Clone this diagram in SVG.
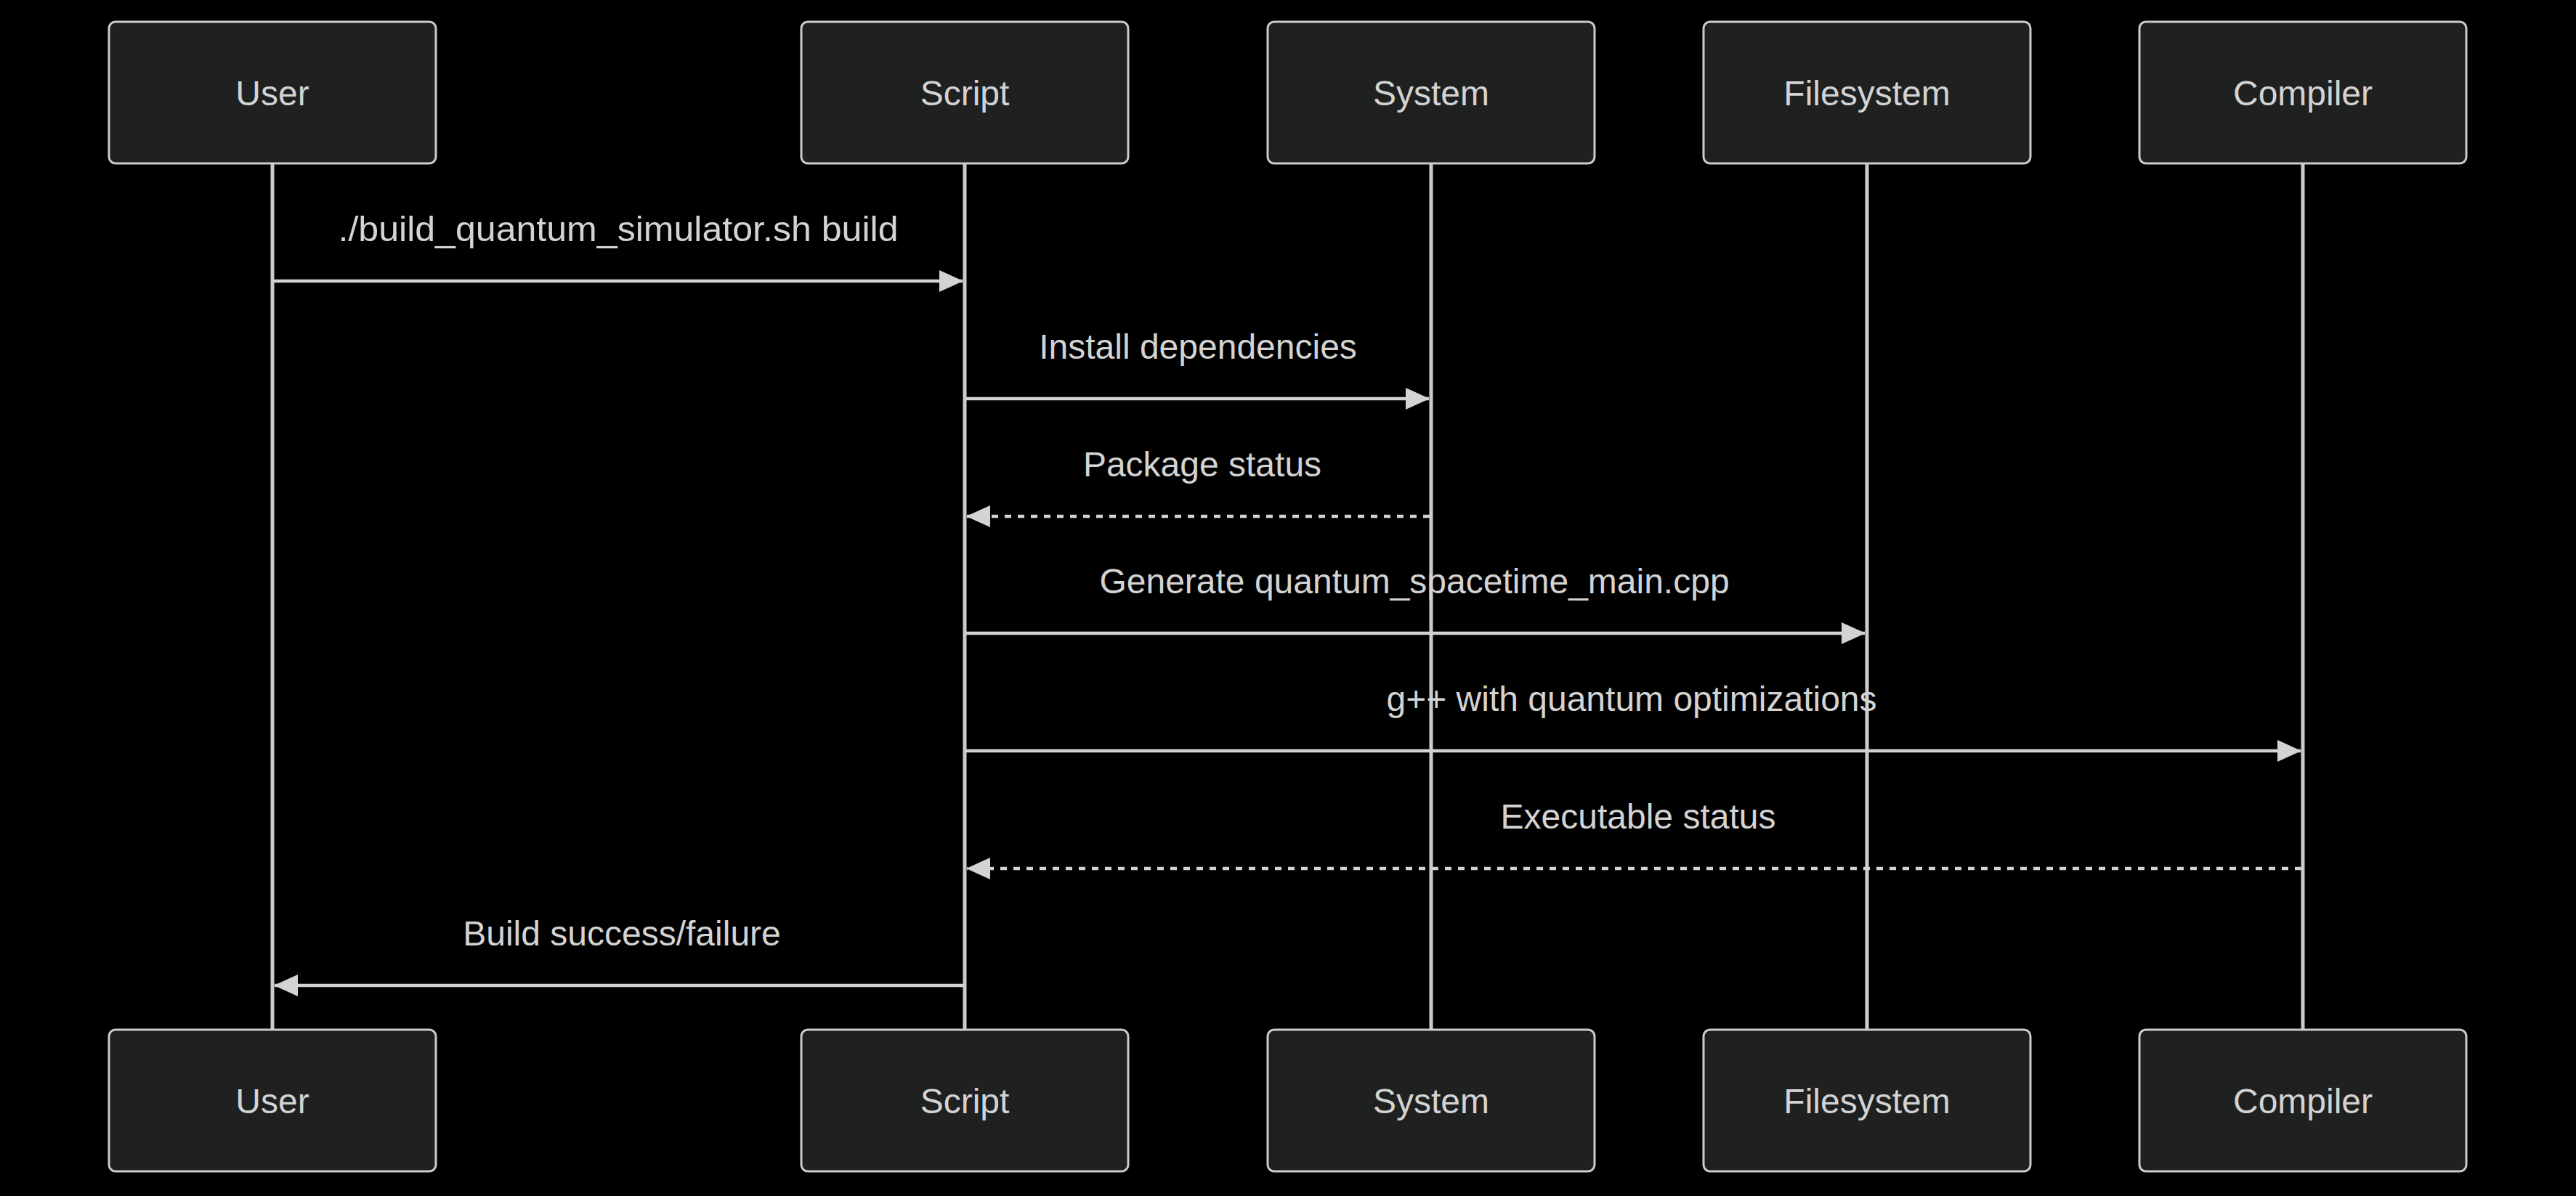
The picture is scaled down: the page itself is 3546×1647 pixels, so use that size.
<svg xmlns="http://www.w3.org/2000/svg" width="3546" height="1647" viewBox="0 0 3546 1647">
<style>
.bg{fill:#000}
.actor{fill:#1f2020;stroke:#cccccc;stroke-width:3}
.alabel{fill:#d3d3d3;font-family:"Liberation Sans",Arial,sans-serif;font-size:48px;text-anchor:middle}
.life{stroke:#cccccc;stroke-width:5}
.msg{stroke:#d3d3d3;stroke-width:4.5;fill:none}
.dash{stroke-dasharray:9,9}
.mlabel{fill:#d3d3d3;font-family:"Liberation Sans",Arial,sans-serif;font-size:48px;text-anchor:middle}
</style>
<defs>
<marker id="ah" markerUnits="userSpaceOnUse" markerWidth="36" markerHeight="36" refX="32" refY="15" orient="auto-start-reverse" viewBox="0 0 36 30">
<path d="M0,0 L33,15 L0,30 z" fill="#d3d3d3"/>
</marker>
</defs>
<rect class="bg" x="0" y="0" width="3546" height="1647"/>
<g id="lifelines">
<line class="life" x1="375" y1="225" x2="375" y2="1418"/>
<line class="life" x1="1328" y1="225" x2="1328" y2="1418"/>
<line class="life" x1="1970" y1="225" x2="1970" y2="1418"/>
<line class="life" x1="2570" y1="225" x2="2570" y2="1418"/>
<line class="life" x1="3170" y1="225" x2="3170" y2="1418"/>
</g>
<g id="user">
<rect class="actor" x="150" y="30" width="450" height="195" rx="9"/>
<text class="alabel" x="375" y="145">User</text>
<rect class="actor" x="150" y="1418" width="450" height="195" rx="9"/>
<text class="alabel" x="375" y="1533">User</text>
</g>
<g id="script">
<rect class="actor" x="1103" y="30" width="450" height="195" rx="9"/>
<text class="alabel" x="1328" y="145">Script</text>
<rect class="actor" x="1103" y="1418" width="450" height="195" rx="9"/>
<text class="alabel" x="1328" y="1533">Script</text>
</g>
<g id="system">
<rect class="actor" x="1745" y="30" width="450" height="195" rx="9"/>
<text class="alabel" x="1970" y="145">System</text>
<rect class="actor" x="1745" y="1418" width="450" height="195" rx="9"/>
<text class="alabel" x="1970" y="1533">System</text>
</g>
<g id="filesystem">
<rect class="actor" x="2345" y="30" width="450" height="195" rx="9"/>
<text class="alabel" x="2570" y="145">Filesystem</text>
<rect class="actor" x="2345" y="1418" width="450" height="195" rx="9"/>
<text class="alabel" x="2570" y="1533">Filesystem</text>
</g>
<g id="compiler">
<rect class="actor" x="2945" y="30" width="450" height="195" rx="9"/>
<text class="alabel" x="3170" y="145">Compiler</text>
<rect class="actor" x="2945" y="1418" width="450" height="195" rx="9"/>
<text class="alabel" x="3170" y="1533">Compiler</text>
</g>
<g id="connectors">
<line class="msg" x1="377" y1="387" x2="1325" y2="387" marker-end="url(#ah)"/>
<text class="mlabel" x="851" y="332" textLength="771" lengthAdjust="spacingAndGlyphs">./build_quantum_simulator.sh build</text>
<line class="msg" x1="1330" y1="549" x2="1967" y2="549" marker-end="url(#ah)"/>
<text class="mlabel" x="1649" y="494">Install dependencies</text>
<line class="msg dash" x1="1968" y1="711" x2="1331" y2="711" marker-end="url(#ah)"/>
<text class="mlabel" x="1655" y="656">Package status</text>
<line class="msg" x1="1330" y1="872" x2="2567" y2="872" marker-end="url(#ah)"/>
<text class="mlabel" x="1947" y="817">Generate quantum_spacetime_main.cpp</text>
<line class="msg" x1="1330" y1="1034" x2="3167" y2="1034" marker-end="url(#ah)"/>
<text class="mlabel" x="2246" y="979">g++ with quantum optimizations</text>
<line class="msg dash" x1="3168" y1="1196" x2="1331" y2="1196" marker-end="url(#ah)"/>
<text class="mlabel" x="2255" y="1141">Executable status</text>
<line class="msg" x1="1326" y1="1357" x2="378" y2="1357" marker-end="url(#ah)"/>
<text class="mlabel" x="856" y="1302">Build success/failure</text>
</g>
</svg>
